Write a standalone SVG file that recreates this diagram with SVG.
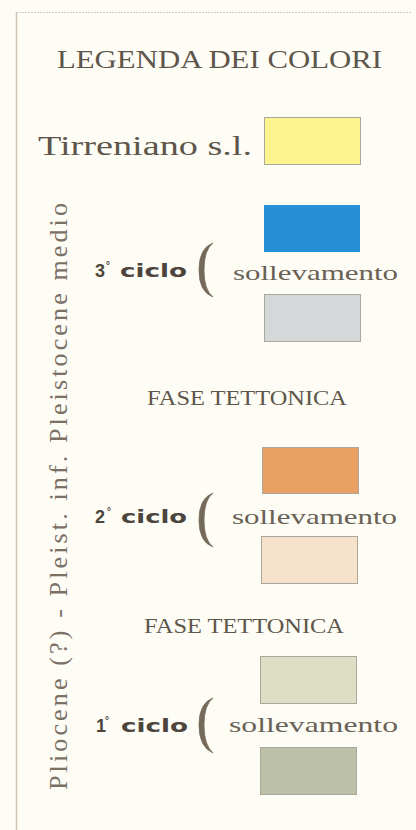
<svg xmlns="http://www.w3.org/2000/svg" width="416" height="830" viewBox="0 0 416 830">
<style>
.serif{font-family:"Liberation Serif","Times New Roman",serif;fill:#5f564b}
.bold{font-family:"Liberation Sans",Arial,sans-serif;font-weight:bold;fill:#4d453b}
.wide{font-family:"DejaVu Sans","Liberation Sans",sans-serif;font-weight:bold;fill:#4d453b}
.box{stroke:#aaa79c;stroke-width:1}
.brk{fill:#75695a;stroke:#75695a;stroke-width:0.8;stroke-linejoin:round}
</style>
<rect x="0" y="0" width="416" height="830" fill="#fdfcf5"/>
<g id="frame">
<line x1="16.5" y1="12" x2="16.5" y2="830" stroke="#cdc3b2" stroke-width="1.5"/>
<line x1="16" y1="12.5" x2="412" y2="12.5" stroke="#cfcfc6" stroke-width="1" stroke-dasharray="2 1"/>
</g>
<g id="title"><text class="serif" x="57" y="68" font-size="25" textLength="325" lengthAdjust="spacingAndGlyphs">LEGENDA DEI COLORI</text></g>
<g id="vertical-label"><text class="serif" transform="translate(67,496.5) rotate(-90)" text-anchor="middle" font-size="26" textLength="587" style="fill:#7a7066">Pliocene (?) - Pleist. inf. Pleistocene medio</text></g>
<g id="tirreniano">
<text class="serif" x="38" y="155" font-size="27" textLength="214" lengthAdjust="spacingAndGlyphs">Tirreniano s.l.</text>
<rect class="box" x="264.5" y="117.5" width="96" height="47" fill="#fdf48e" stroke="#c4a77a"/>
</g>
<g id="ciclo3">
<rect x="264" y="205" width="96" height="47" fill="#2590d6"/>
<text class="bold" x="95" y="277" font-size="18">3<tspan x="106" dy="-8" font-size="10">°</tspan></text>
<text class="wide" x="120" y="277" font-size="17" textLength="67" lengthAdjust="spacingAndGlyphs">ciclo</text>
<path class="brk" d="M213 243 Q199 248 199 270 Q199 292 213 297 Q204 290 204 270 Q204 250 213 243 Z"/>
<text class="serif" x="233" y="280" font-size="21" textLength="165" lengthAdjust="spacingAndGlyphs" style="fill:#6a6156">sollevamento</text>
<rect class="box" x="264.5" y="294.5" width="96" height="47" fill="#d4d8d8"/>
</g>
<g id="fase1"><text class="serif" x="147" y="405" font-size="20" textLength="200" lengthAdjust="spacingAndGlyphs">FASE TETTONICA</text></g>
<g id="ciclo2">
<rect class="box" x="262.5" y="447.5" width="96" height="46" fill="#e9a163" stroke="#c99a70"/>
<text class="bold" x="95" y="523" font-size="18">2<tspan x="107" dy="-8" font-size="10">°</tspan></text>
<text class="wide" x="121" y="523" font-size="17" textLength="66" lengthAdjust="spacingAndGlyphs">ciclo</text>
<path class="brk" d="M213 493 Q199 498 199 520 Q199 542 213 547 Q204 540 204 520 Q204 500 213 493 Z"/>
<text class="serif" x="232" y="524" font-size="21" textLength="165" lengthAdjust="spacingAndGlyphs" style="fill:#6a6156">sollevamento</text>
<rect class="box" x="261.5" y="536.5" width="96" height="47" fill="#f6e2ca"/>
</g>
<g id="fase2"><text class="serif" x="144" y="633" font-size="20" textLength="200" lengthAdjust="spacingAndGlyphs">FASE TETTONICA</text></g>
<g id="ciclo1">
<rect class="box" x="260.5" y="656.5" width="96" height="47" fill="#dcdfc3"/>
<text class="bold" x="96" y="732" font-size="18">1<tspan x="105" dy="-8" font-size="10">°</tspan></text>
<text class="wide" x="121" y="732" font-size="17" textLength="67" lengthAdjust="spacingAndGlyphs">ciclo</text>
<path class="brk" d="M213 698 Q199 703 199 725 Q199 747 213 753 Q204 745 204 725 Q204 705 213 698 Z"/>
<text class="serif" x="229" y="732" font-size="21" textLength="169" lengthAdjust="spacingAndGlyphs" style="fill:#6a6156">sollevamento</text>
<rect class="box" x="260.5" y="747.5" width="96" height="47" fill="#bcc0a6"/>
</g>
</svg>
